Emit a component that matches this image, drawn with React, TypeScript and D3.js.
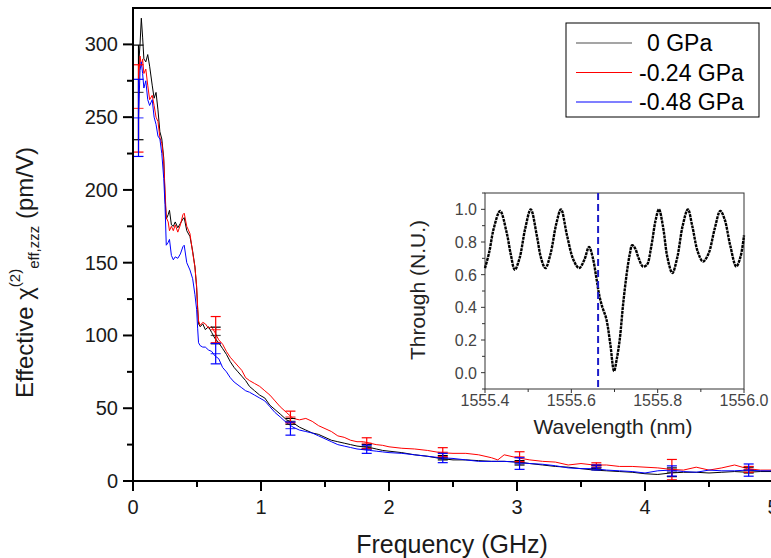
import React from 'react';
import * as d3 from 'd3';

// frequency grid (GHz) shared by the three pressure curves
const freq = [0.043, 0.055, 0.065, 0.075, 0.085, 0.1, 0.115, 0.13, 0.15, 0.165, 0.18, 0.195, 0.21, 0.225, 0.24, 0.25, 0.26, 0.275, 0.285, 0.3, 0.315, 0.33, 0.35, 0.37, 0.39, 0.4, 0.42, 0.445, 0.466, 0.484, 0.497, 0.505, 0.512, 0.525, 0.545, 0.565, 0.59, 0.615, 0.64, 0.67, 0.7, 0.73, 0.76, 0.79, 0.82, 0.85, 0.88, 0.91, 0.95, 0.99, 1.03, 1.07, 1.11, 1.15, 1.2, 1.25, 1.3, 1.35, 1.4, 1.45, 1.5, 1.55, 1.6, 1.65, 1.7, 1.75, 1.8, 1.85, 1.9, 1.95, 2.0, 2.1, 2.2, 2.3, 2.4, 2.5, 2.6, 2.7, 2.8, 2.85, 2.9, 3.0, 3.1, 3.2, 3.3, 3.4, 3.5, 3.6, 3.7, 3.8, 3.9, 4.0, 4.1, 4.2, 4.3, 4.4, 4.5, 4.6, 4.7, 4.8, 4.9, 5.0];
const chi0 = [285, 300, 318, 305, 290, 288, 293, 285, 272, 263, 267, 255, 240, 235, 222, 195, 180, 183, 186, 176, 175, 178, 174, 177, 180, 181, 172, 168, 158, 147, 133, 118, 108, 106, 108, 104, 106, 102, 98, 95, 91, 87, 82, 78, 75, 72, 69, 65, 62, 59, 57, 52, 49, 46, 42, 40, 37, 35, 33, 32, 30, 28, 27, 26, 25, 24, 23.5, 23, 22, 21, 20.5, 19.5, 18, 17, 15.5, 14.5, 14.5, 14, 13.5, 13.5, 13.5, 13, 12, 11, 10, 9.5, 8.5, 7.5, 7, 6.5, 6, 5, 4.5, 5.5, 6, 6, 5.5, 6, 6.5, 6, 6.5, 6.5];
const chi024 = [275, 292, 285, 290, 280, 283, 272, 262, 265, 258, 250, 247, 236, 232, 220, 200, 181, 178, 172, 175, 172, 176, 171, 176, 183, 184, 175, 170, 157, 147, 134, 120, 110, 107, 109, 108, 105, 106, 102, 97, 94, 89, 85, 82, 79, 76, 71, 69, 67, 65, 62, 59, 55, 51, 47, 43, 42, 43, 41, 38, 36, 34, 31, 30, 28, 27, 27, 26, 25, 24.5, 23.5, 22.5, 22, 21, 19.5, 19, 19, 18, 16, 14.5, 18, 16, 14.5, 13.5, 13, 11, 12, 11, 11, 10, 10, 9.5, 9, 8, 7.5, 9.5, 7.5, 9, 11, 8.5, 7.5, 7.5];
const chi048 = [250, 282, 288, 280, 270, 275, 262, 258, 262, 250, 245, 237, 235, 225, 208, 190, 162, 164, 166, 155, 152, 154, 153, 156, 161, 162, 150, 145, 139, 128, 118, 105, 95, 93, 92, 92, 90, 89, 86, 84, 78, 75, 71, 68, 66, 64, 62, 61, 59, 57, 55, 51, 47, 44, 40, 37, 35, 34, 33, 31, 29, 27, 25, 24, 23, 22, 21.5, 21, 20.5, 20, 19.5, 19, 18, 17, 16, 15.5, 14.5, 13.5, 13.5, 13.5, 13.5, 13, 12, 11.5, 10.5, 9, 8.5, 8.5, 7.5, 7, 6.5, 5.5, 7, 7.5, 6.5, 6, 7.5, 7, 7, 7.5, 7, 7];

// error bars
const errFreq = [0.043, 0.646, 1.23, 1.826, 2.42, 3.02, 3.62, 4.21, 4.81];
const err0Mid = [267, 100, 41, 23.6, 16, 12.5, 9.5, 6, 7.5];
const err0Half = [32.5, 5.7, 2, 1.5, 1.5, 1.5, 1.2, 3, 2];
const err024Mid = [256, 104, 44, 26, 19.8, 16.7, 11, 7.8, 8];
const err024Half = [30, 9, 4, 3.7, 3.1, 3.4, 1.5, 7, 2];
const err048Mid = [249.5, 87.5, 36, 21.8, 15.8, 12, 9.3, 6.9, 7.5];
const err048Half = [26.5, 7, 4.5, 2.8, 3.2, 4, 1.7, 3.5, 4.2];

const seriesNames = ['0 GPa', '-0.24 GPa', '-0.48 GPa'];
const seriesColors = ['#000000', '#ff0000', '#0000ff'];

const xTicks = [0, 1, 2, 3, 4, 5];
const yTicks = [0, 50, 100, 150, 200, 250, 300];

// inset: through transmission
const wavelength = [1555.400, 1555.410, 1555.420, 1555.435, 1555.450, 1555.460, 1555.469, 1555.480, 1555.493, 1555.506, 1555.520, 1555.530, 1555.540, 1555.552, 1555.565, 1555.576, 1555.590, 1555.605, 1555.618, 1555.630, 1555.641, 1555.650, 1555.658, 1555.665, 1555.672, 1555.681, 1555.690, 1555.699, 1555.705, 1555.712, 1555.720, 1555.728, 1555.735, 1555.741, 1555.748, 1555.756, 1555.766, 1555.775, 1555.785, 1555.795, 1555.803, 1555.812, 1555.823, 1555.834, 1555.845, 1555.858, 1555.870, 1555.880, 1555.893, 1555.905, 1555.918, 1555.932, 1555.945, 1555.955, 1555.968, 1555.982, 1555.992, 1556.000];
const through = [0.64, 0.74, 0.88, 0.99, 0.86, 0.72, 0.63, 0.70, 0.88, 1.0, 0.84, 0.70, 0.64, 0.73, 0.91, 1.0, 0.84, 0.69, 0.64, 0.69, 0.77, 0.70, 0.58, 0.47, 0.40, 0.33, 0.18, 0.01, 0.08, 0.20, 0.42, 0.60, 0.72, 0.78, 0.76, 0.70, 0.65, 0.66, 0.77, 0.93, 1.0, 0.90, 0.70, 0.61, 0.70, 0.90, 1.0, 0.90, 0.74, 0.68, 0.73, 0.88, 0.99, 0.94, 0.78, 0.65, 0.71, 0.84];
const markerWl = 1555.662;
const insetXTicks = [1555.4, 1555.6, 1555.8, 1556.0];
const insetYTicks = [0, 0.2, 0.4, 0.6, 0.8, 1.0];

const font = 'Arial, "Liberation Sans", sans-serif';

export default function App() {
  const W = 771, H = 558;
  const x = d3.scaleLinear().domain([0, 5]).range([133, 773]);
  const y = d3.scaleLinear().domain([0, 325]).range([481, 8]);

  const line = d3.line<[number, number]>().x(d => x(d[0])).y(d => y(d[1]));
  const curves = [chi0, chi024, chi048].map(vals => line(freq.map((f, i) => [f, vals[i]] as [number, number])));
  const errs = [[err0Mid, err0Half], [err024Mid, err024Half], [err048Mid, err048Half]];

  const ix = d3.scaleLinear().domain([1555.4, 1556.0]).range([485, 744]);
  const iy = d3.scaleLinear().domain([-0.1, 1.1]).range([389, 193]);
  const insetLine = d3.line<number>().x((d, i) => ix(wavelength[i])).y(d => iy(d)).curve(d3.curveCatmullRom);

  const xMinor = d3.range(0.5, 5, 1);
  const yMinor = d3.range(25, 325, 50);
  const ixMinor = [1555.5, 1555.7, 1555.9];
  const iyMinor = [-0.1, 0.1, 0.3, 0.5, 0.7, 0.9, 1.1];

  return (
    <svg width={W} height={H} style={{ position: 'absolute', left: 0, top: 0, background: '#fff' }} fontFamily={font}>
      {/* curves */}
      {curves.map((d, k) => (
        <path key={k} d={d || ''} fill="none" stroke={seriesColors[k]} strokeWidth={1} />
      ))}
      {/* error bars */}
      {errs.map(([mid, half], k) => (
        <g key={k} stroke={seriesColors[k]} strokeWidth={1.2}>
          {errFreq.map((f, i) => (
            <g key={i}>
              <line x1={x(f)} x2={x(f)} y1={y(mid[i] + half[i])} y2={y(mid[i] - half[i])} />
              <line x1={x(f) - 5} x2={x(f) + 5} y1={y(mid[i] + half[i])} y2={y(mid[i] + half[i])} />
              <line x1={x(f) - 5} x2={x(f) + 5} y1={y(mid[i] - half[i])} y2={y(mid[i] - half[i])} />
              <line x1={x(f) - 5} x2={x(f) + 5} y1={y(mid[i])} y2={y(mid[i])} strokeOpacity={0.7} />
            </g>
          ))}
        </g>
      ))}

      {/* main frame */}
      <g stroke="#000" strokeWidth={2}>
        <line x1={133} x2={133} y1={8} y2={482} />
        <line x1={132} x2={W} y1={481} y2={481} />
        <line x1={132} x2={W} y1={8} y2={8} />
        {xTicks.map(t => <line key={t} x1={x(t)} x2={x(t)} y1={481} y2={491} />)}
        {xMinor.map(t => <line key={t} x1={x(t)} x2={x(t)} y1={481} y2={487} />)}
        {yTicks.map(t => <line key={t} x1={123} x2={133} y1={y(t)} y2={y(t)} />)}
        {yMinor.map(t => <line key={t} x1={127} x2={133} y1={y(t)} y2={y(t)} />)}
      </g>
      <g fontSize={20} fill="#1a1a1a">
        {xTicks.map(t => (
          <text key={t} x={x(t)} y={514} textAnchor="middle">{t}</text>
        ))}
        {yTicks.map(t => (
          <text key={t} x={118} y={y(t) + 7} textAnchor="end">{t}</text>
        ))}
      </g>
      <text x={452} y={553} textAnchor="middle" fontSize={25} fill="#1a1a1a">Frequency (GHz)</text>
      <text transform="translate(33,398) rotate(-90)" fontSize={24} fill="#1a1a1a">
        Effective χ
        <tspan fontSize={15} dy={-13}>(2)</tspan>
        <tspan fontSize={15} dy={19}>eff,zzz</tspan>
        <tspan dy={-6}> (pm/V)</tspan>
      </text>

      {/* legend */}
      <rect x={566} y={23} width={193} height={94} fill="#fff" stroke="#000" strokeWidth={1} />
      {seriesNames.map((n, k) => (
        <g key={n}>
          <line x1={576} x2={632} y1={43 + k * 29.5} y2={43 + k * 29.5} stroke={seriesColors[k]} strokeWidth={1.2} strokeOpacity={k === 0 ? 0.7 : 1} />
          <text x={k === 0 ? 647 : 639} y={51 + k * 29.5} fontSize={23} fill="#000">{n}</text>
        </g>
      ))}

      {/* inset */}
      <g stroke="#333" strokeWidth={1}>
        <rect x={485} y={193} width={259} height={196} fill="none" />
        {insetXTicks.map(t => <line key={t} x1={ix(t)} x2={ix(t)} y1={389} y2={393} />)}
        {ixMinor.map(t => <line key={t} x1={ix(t)} x2={ix(t)} y1={389} y2={392} />)}
        {insetYTicks.map(t => <line key={t} x1={481} x2={485} y1={iy(t)} y2={iy(t)} />)}
        {iyMinor.map(t => <line key={t} x1={482} x2={485} y1={iy(t)} y2={iy(t)} />)}
      </g>
      <path d={insetLine(through) || ''} fill="none" stroke="#000" strokeWidth={2.4} strokeDasharray="3 0.8" />
      <line x1={ix(markerWl)} x2={ix(markerWl)} y1={193} y2={389} stroke="#1c1cc8" strokeWidth={2} strokeDasharray="7 4" />
      <g fontSize={16} fill="#444">
        {insetXTicks.map(t => (
          <text key={t} x={ix(t)} y={406} textAnchor="middle">{t.toFixed(1)}</text>
        ))}
        {insetYTicks.map(t => (
          <text key={t} x={477} y={iy(t) + 6} textAnchor="end">{t.toFixed(1)}</text>
        ))}
      </g>
      <text x={613} y={434} textAnchor="middle" fontSize={21} fill="#222">Wavelength (nm)</text>
      <text transform="translate(425,290) rotate(-90)" textAnchor="middle" fontSize={21} fill="#222">Through (N.U.)</text>
    </svg>
  );
}
